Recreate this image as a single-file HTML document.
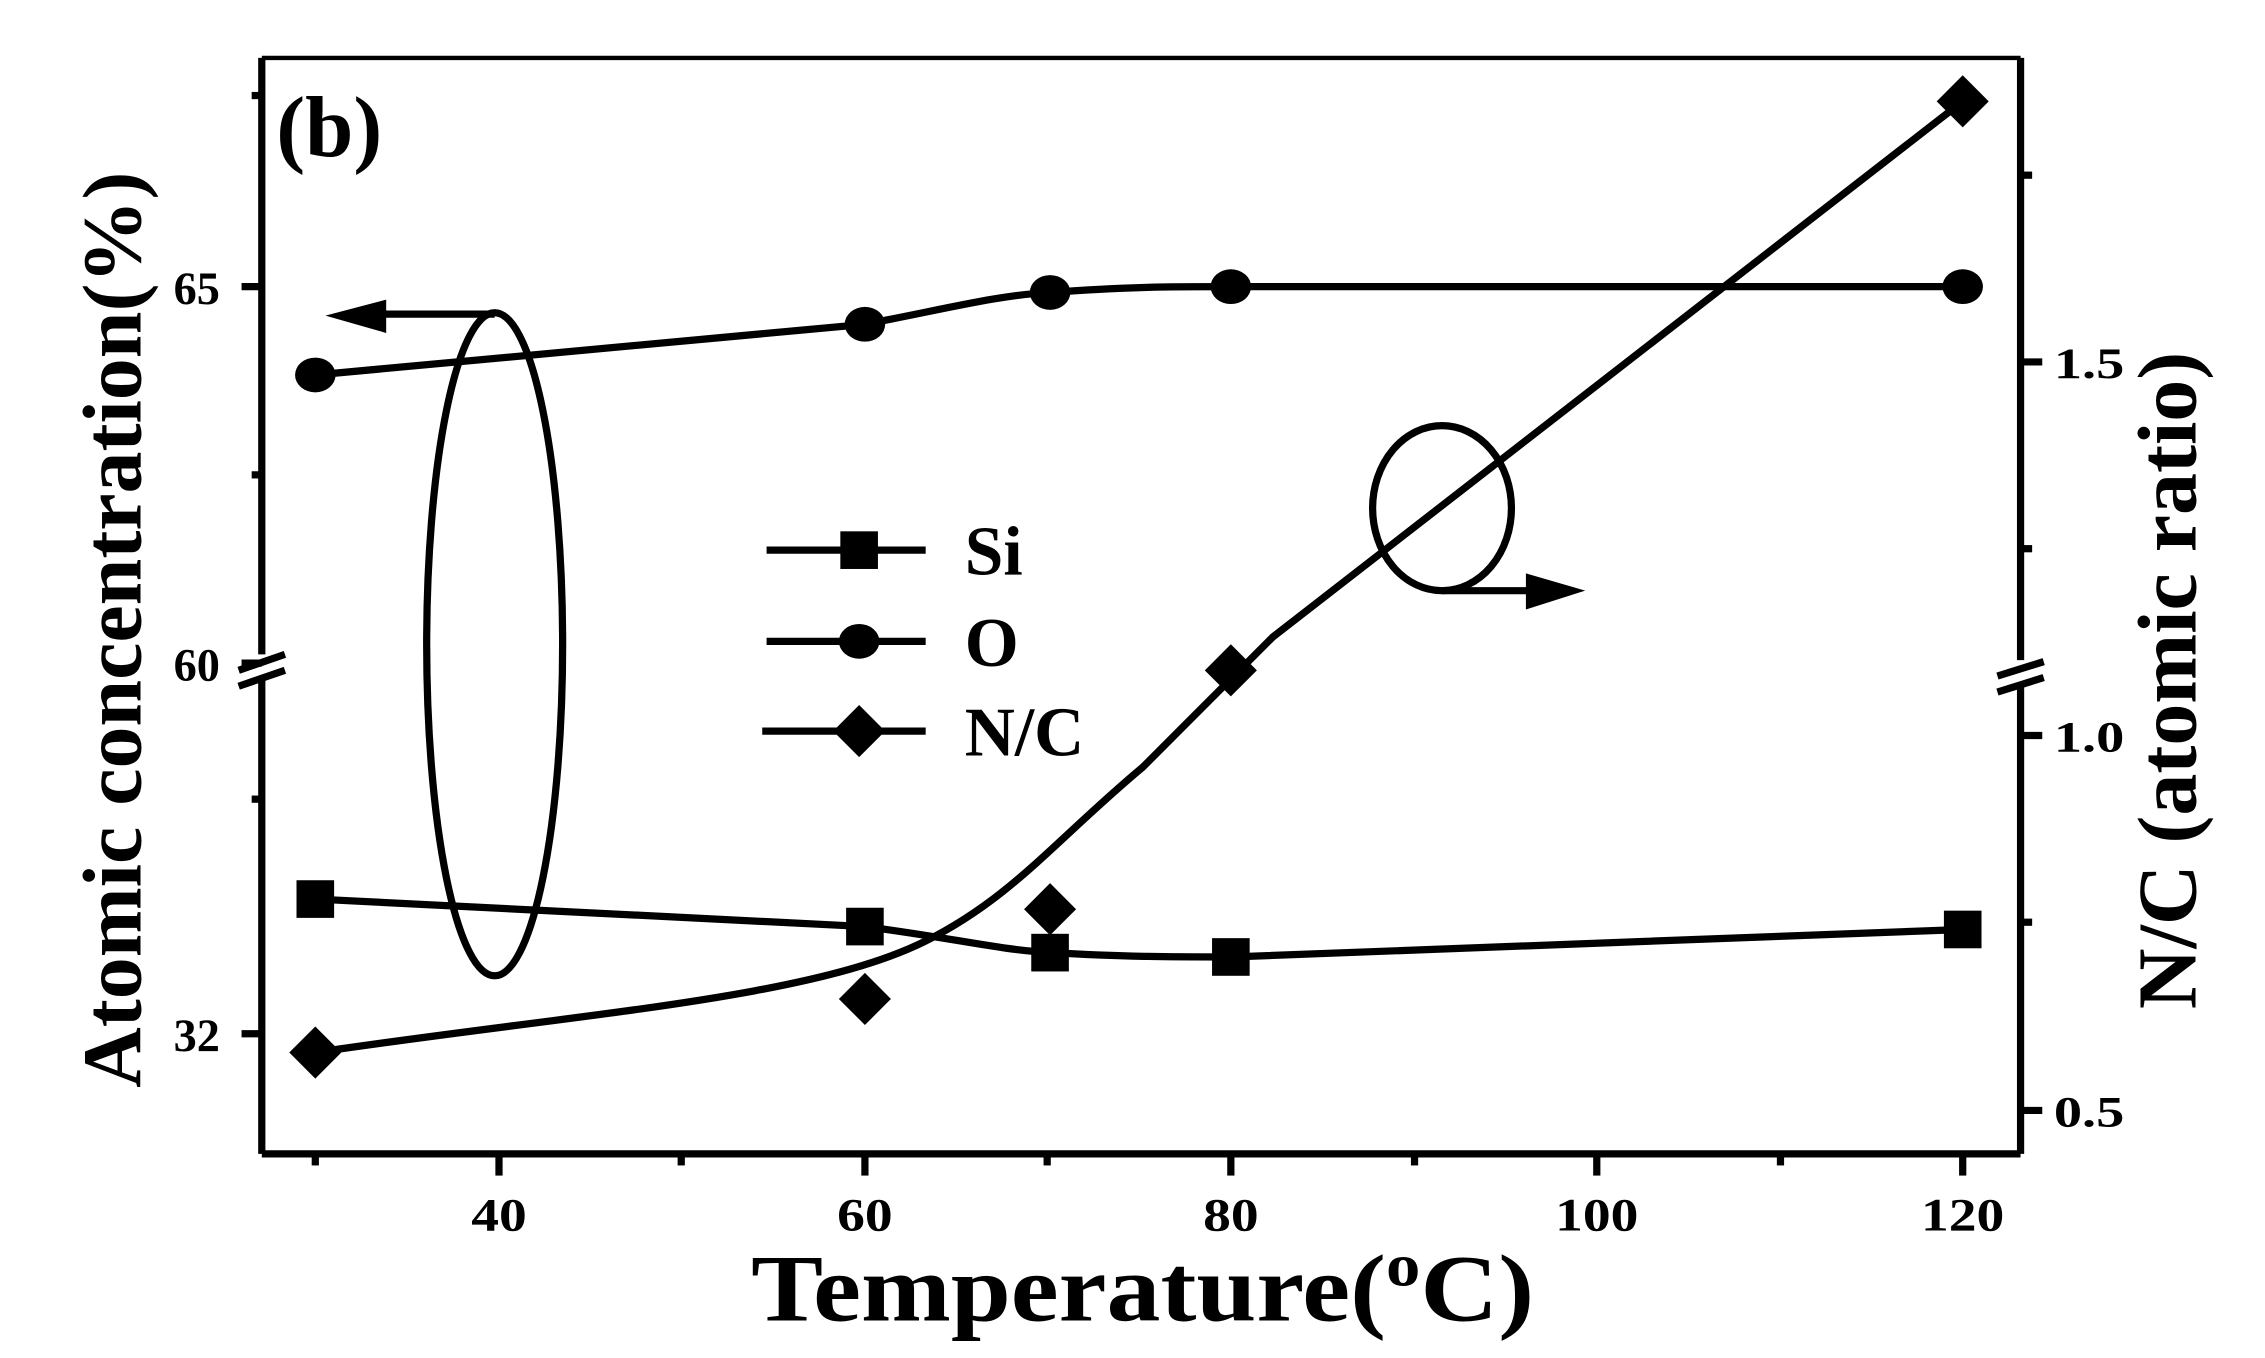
<!DOCTYPE html>
<html><head><meta charset="utf-8"><style>
html,body{margin:0;padding:0;background:#fff;}
svg{display:block;}
text{font-family:"Liberation Serif",serif;font-weight:bold;fill:#000;}
</style></head><body>
<svg width="2265" height="1358" viewBox="0 0 1566 938" preserveAspectRatio="none" xmlns="http://www.w3.org/2000/svg">
<rect width="1566" height="938" fill="#fff"/>
<g stroke="#000" stroke-width="5" fill="none">
<line x1="181" y1="40" x2="1397" y2="40" stroke-width="3"/>
<line x1="181" y1="797" x2="1397" y2="797"/>
<line x1="181" y1="40" x2="181" y2="452"/>
<line x1="181" y1="468" x2="181" y2="797"/>
<line x1="1397" y1="40" x2="1397" y2="456"/>
<line x1="1397" y1="472" x2="1397" y2="797"/>
</g>
<g stroke="#000" stroke-width="5">
<line x1="165" y1="463" x2="197" y2="452"/>
<line x1="165" y1="474" x2="197" y2="463"/>
<line x1="1381" y1="467" x2="1413" y2="457"/>
<line x1="1381" y1="478" x2="1413" y2="468"/>
</g>
<g stroke="#000" stroke-width="5">
<line x1="167" y1="198" x2="181" y2="198"/>
<line x1="167" y1="458" x2="181" y2="458"/>
<line x1="167" y1="714" x2="181" y2="714"/>
<line x1="174" y1="66" x2="181" y2="66"/>
<line x1="174" y1="328" x2="181" y2="328"/>
<line x1="174" y1="552" x2="181" y2="552"/>
<line x1="1397" y1="250" x2="1412" y2="250"/>
<line x1="1397" y1="508" x2="1412" y2="508"/>
<line x1="1397" y1="767" x2="1412" y2="767"/>
<line x1="1397" y1="121" x2="1405" y2="121"/>
<line x1="1397" y1="379" x2="1405" y2="379"/>
<line x1="1397" y1="637" x2="1405" y2="637"/>
<line x1="345" y1="797" x2="345" y2="812"/>
<line x1="598" y1="797" x2="598" y2="812"/>
<line x1="851" y1="797" x2="851" y2="812"/>
<line x1="1104" y1="797" x2="1104" y2="812"/>
<line x1="1357" y1="797" x2="1357" y2="812"/>
<line x1="218" y1="797" x2="218" y2="805"/>
<line x1="471" y1="797" x2="471" y2="805"/>
<line x1="724" y1="797" x2="724" y2="805"/>
<line x1="978" y1="797" x2="978" y2="805"/>
<line x1="1231" y1="797" x2="1231" y2="805"/>
</g>
<g font-size="32">
<text x="152" y="210" text-anchor="end">65</text>
<text x="152" y="470" text-anchor="end">60</text>
<text x="152" y="726" text-anchor="end">32</text>
<text x="1420" y="261" transform="translate(1420 0) scale(1.3 1) translate(-1420 0)" font-size="30">1.5</text>
<text x="1420" y="519" transform="translate(1420 0) scale(1.3 1) translate(-1420 0)" font-size="30">1.0</text>
<text x="1420" y="778" transform="translate(1420 0) scale(1.3 1) translate(-1420 0)" font-size="30">0.5</text>
<g transform="translate(0 850) scale(1.2 1)">
<text x="287.5" y="0" text-anchor="middle">40</text>
<text x="498.3" y="0" text-anchor="middle">60</text>
<text x="709.2" y="0" text-anchor="middle">80</text>
<text x="920" y="0" text-anchor="middle">100</text>
<text x="1130.8" y="0" text-anchor="middle">120</text>
</g>
</g>
<text transform="translate(790 912) scale(1.13 1)" text-anchor="middle" font-size="66">Temperature(<tspan font-size="42" dy="-24">o</tspan><tspan dy="24">C)</tspan></text>
<text transform="translate(97 435) rotate(-90)" text-anchor="middle" font-size="58">Atomic concentration(%)</text>
<text transform="translate(1518 470) rotate(-90)" text-anchor="middle" font-size="58">N/C (atomic ratio)</text>
<text x="191" y="108" font-size="60">(b)</text>
<g stroke="#000" stroke-width="5" fill="none">
<path d="M218,259 L598,224 C660,212 690,204 726,202 C780,198 810,198 851,198 L1357,198"/>
<path d="M218,621 L598,640 C660,648 690,656 726,658 C780,661 810,661 851,661 L1357,642"/>
<path d="M218,727 C400,700 560,690 640,650 C700,620 730,580 790,530 C820,500 840,480 880,440 L1357,70"/>
</g>
<g fill="#000">
<ellipse cx="218" cy="259" rx="14" ry="12"/>
<ellipse cx="598" cy="224" rx="14" ry="12"/>
<ellipse cx="726" cy="202" rx="14" ry="12"/>
<ellipse cx="851" cy="198" rx="14" ry="12"/>
<ellipse cx="1357" cy="198" rx="14" ry="12"/>
<rect x="205" y="608" width="26" height="26"/>
<rect x="585" y="627" width="26" height="26"/>
<rect x="713" y="645" width="26" height="26"/>
<rect x="838" y="648" width="26" height="26"/>
<rect x="1344" y="629" width="26" height="26"/>
<polygon points="218,709 236,727 218,745 200,727"/>
<polygon points="598,672 616,690 598,708 580,690"/>
<polygon points="726,610 744,628 726,646 708,628"/>
<polygon points="851,445 869,463 851,481 833,463"/>
<polygon points="1357,52 1375,70 1357,88 1339,70"/>
</g>
<g stroke="#000" stroke-width="5">
<line x1="530" y1="380" x2="640" y2="380"/>
<line x1="530" y1="443" x2="640" y2="443"/>
<line x1="527" y1="505" x2="640" y2="505"/>
</g>
<g fill="#000">
<rect x="581" y="367" width="26" height="26"/>
<ellipse cx="594" cy="443" rx="14" ry="12"/>
<polygon points="594,487 612,505 594,523 576,505"/>
</g>
<g font-size="48">
<text x="667" y="397">Si</text>
<text x="667" y="460">O</text>
<text x="667" y="522">N/C</text>
</g>
<g stroke="#000" stroke-width="5" fill="none">
<ellipse cx="342" cy="445" rx="47" ry="229"/>
<ellipse cx="997" cy="351" rx="48" ry="57"/>
<line x1="260" y1="217" x2="342" y2="217"/>
<line x1="997" y1="408" x2="1065" y2="408"/>
</g>
<polygon points="225,218 267,207 267,230" fill="#000"/>
<polygon points="1096,408 1055,396 1055,421" fill="#000"/>
</svg>
</body></html>
